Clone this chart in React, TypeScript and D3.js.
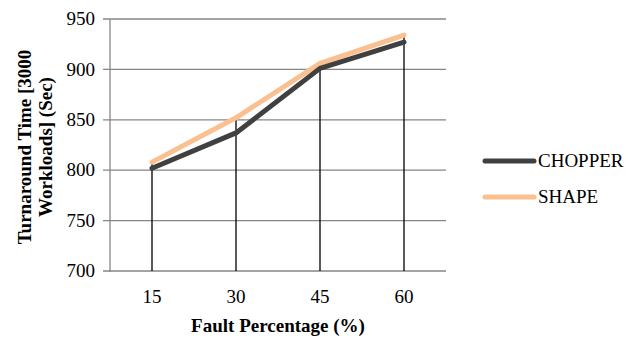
import React from "react";
import * as d3 from "d3";

const categories = ["15", "30", "45", "60"];
const chopper = [802, 837, 901, 927];
const shape = [808, 852, 906, 934];
const yTicks = [700, 750, 800, 850, 900, 950];
const seriesNames = ["CHOPPER", "SHAPE"];
const seriesColors = ["#404040", "#FAC090"];

const FS = { fontFamily: '"Liberation Serif", "Times New Roman", serif' };

export default function App() {
  const W = 629, H = 338;
  const left = 110, right = 446, top = 19, bottom = 271;
  const x = d3.scaleBand<string>().domain(categories).range([left, right]);
  const y = d3.scaleLinear().domain([700, 950]).range([bottom, top]);
  const cx = (c: string) => (x(c) as number) + x.bandwidth() / 2;
  const line = d3
    .line<number>()
    .x((_, i) => cx(categories[i]))
    .y((v) => y(v));
  const series = [chopper, shape];
  return (
    <svg width={W} height={H} style={{ position: "absolute", left: 0, top: 0 }}>
      <rect width={W} height={H} fill="#fff" />
      {yTicks.map((t) => (
        <g key={t}>
          <line x1={left - 7} x2={right} y1={y(t)} y2={y(t)} stroke="#868686" strokeWidth={1.3} />
          <text x={95} y={y(t)} dy="0.33em" textAnchor="end" fontSize={19} style={FS} fill="#000">
            {t}
          </text>
        </g>
      ))}
      <line x1={left} x2={left} y1={top} y2={bottom + 1} stroke="#868686" strokeWidth={1.3} />
      {categories.map((c, i) => (
        <g key={c}>
          <line
            x1={cx(c)}
            x2={cx(c)}
            y1={y(Math.max(chopper[i], shape[i]))}
            y2={bottom}
            stroke="#000"
            strokeWidth={1.3}
          />
          <text x={cx(c)} y={297} dy="0.33em" textAnchor="middle" fontSize={19} style={FS} fill="#000">
            {c}
          </text>
        </g>
      ))}
      {[1, 0].map((k) => (
        <path
          key={k}
          d={line(series[k]) || ""}
          fill="none"
          stroke={seriesColors[k]}
          strokeWidth={5}
          strokeLinejoin="round"
          strokeLinecap="round"
        />
      ))}
      <text x={278} y={326} dy="0.33em" textAnchor="middle" fontSize={19} fontWeight="bold" style={FS}>
        Fault Percentage (%)
      </text>
      <g transform="translate(35,147) rotate(-90)">
        <text x={0} y={-10.5} dy="0.33em" textAnchor="middle" fontSize={19} fontWeight="bold" style={FS}>
          Turnaround Time [3000
        </text>
        <text x={0} y={10.5} dy="0.33em" textAnchor="middle" fontSize={19} fontWeight="bold" style={FS}>
          Workloads] (Sec)
        </text>
      </g>
      {seriesNames.map((n, i) => (
        <g key={n}>
          <line
            x1={485}
            x2={534}
            y1={161 + i * 36}
            y2={161 + i * 36}
            stroke={seriesColors[i]}
            strokeWidth={5}
            strokeLinecap="round"
          />
          <text x={538} y={161 + i * 36} dy="0.33em" fontSize={19} style={FS} fill="#000">
            {n}
          </text>
        </g>
      ))}
    </svg>
  );
}
